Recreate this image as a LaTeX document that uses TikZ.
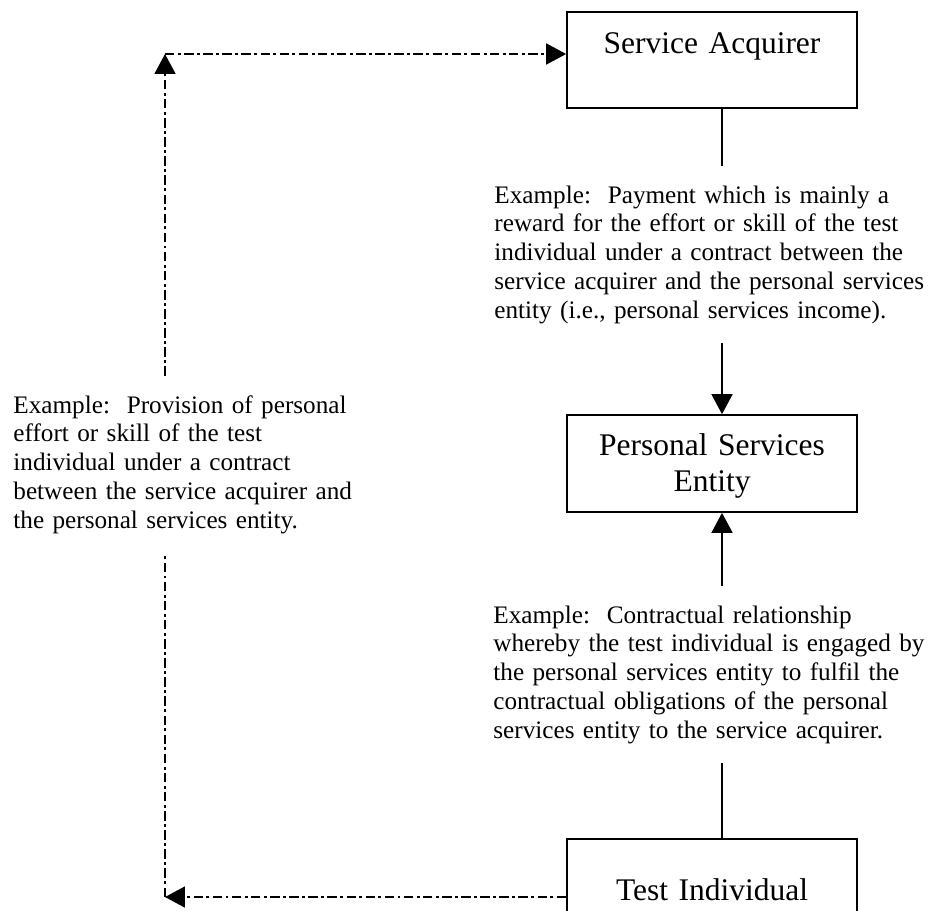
\documentclass[tikz,border=0pt]{standalone}
\usepackage{fontspec}
\setmainfont{Liberation Serif}
\usetikzlibrary{arrows.meta}
\tikzset{
  entity/.style={draw, line width=0.8pt, minimum width=138.1pt, inner sep=0pt},
  entitylabel/.style={font=\fontsize{15}{17.6}\selectfont, text width=138pt, align=center, inner sep=0pt, anchor=base},
  note/.style={font=\fontsize{12}{13.75}\selectfont, align=left, inner xsep=0pt, inner ysep=9pt, anchor=base west},
  link/.style={line width=0.7pt},
  linkarrow/.style={link, -{Triangle[length=9.5pt,width=10pt]}},
  flow/.style={line width=0.75pt, dash pattern=on 4.5pt off 1.6pt on 1.4pt off 1.6pt},
  flowarrow/.style={flow, -{Triangle[length=9.5pt,width=10pt]}}
}
\newcommand{\entity}[4]{\node[entity, minimum height=#4] (#1) at ( #2 , #3 ) {};}
\newcommand{\notetext}[5]{\node[note, text width=#4] (#1) at ( #2 , #3 ) {#5};}

\begin{document}
\begin{tikzpicture}[x=0.47619pt, y=-0.47619pt]
        \useasboundingbox (0,0) rectangle (938,910);
        \clip (0,0) rectangle (938,910);
        % boxes
        \entity{acq}{712}{60}{45.7pt}
        \entity{pse}{712}{463.5}{46.2pt}
        \entity{ti}{712}{897}{55.2pt}
        % box labels
        \node[entitylabel] (acqlabel) at (712,53) {Service Acquirer};
        \node[entitylabel] (pselabel) at (712,455) {Personal Services\\Entity};
        \node[entitylabel] (tilabel) at (712,900) {Test Individual};
        % notes right
        \notetext{paynote}{494}{203}{225pt}{Example:\ \ Payment which is mainly a\\
          reward for the effort or skill of the test\\
          individual under a contract between the\\
          service acquirer and the personal services\\
          entity (i.e., personal services income).}
        \notetext{contractnote}{493}{623}{225pt}{Example:\ \ Contractual relationship\\
          whereby the test individual is engaged by\\
          the personal services entity to fulfil the\\
          contractual obligations of the personal\\
          services entity to the service acquirer.}
        % note left
        \notetext{provnote}{13}{413}{185pt}{Example:\ \ Provision of personal\\
          effort or skill of the test\\
          individual under a contract\\
          between the service acquirer and\\
          the personal services entity.}
        % corners
        \coordinate (spine) at (722,0);
        \coordinate (topcorner) at (165,54);
        \coordinate (botcorner) at (165,897);
        % solid links
        \draw[link] (acq.south -| spine) -- (paynote.north -| spine);
        \draw[linkarrow] (paynote.south -| spine) -- (pse.north -| spine);
        \draw[linkarrow] (contractnote.north -| spine) -- (pse.south -| spine);
        \draw[link] (contractnote.south -| spine) -- (ti.north -| spine);
        % dash-dot loop
        \draw[flowarrow] (ti.west) -- (botcorner);
        \draw[flow] (botcorner) -- (botcorner |- provnote.south);
        \draw[flowarrow] (provnote.north -| topcorner) -- (topcorner);
        \draw[flowarrow] (topcorner) -- (acq.west |- topcorner);
\end{tikzpicture}
\end{document}
